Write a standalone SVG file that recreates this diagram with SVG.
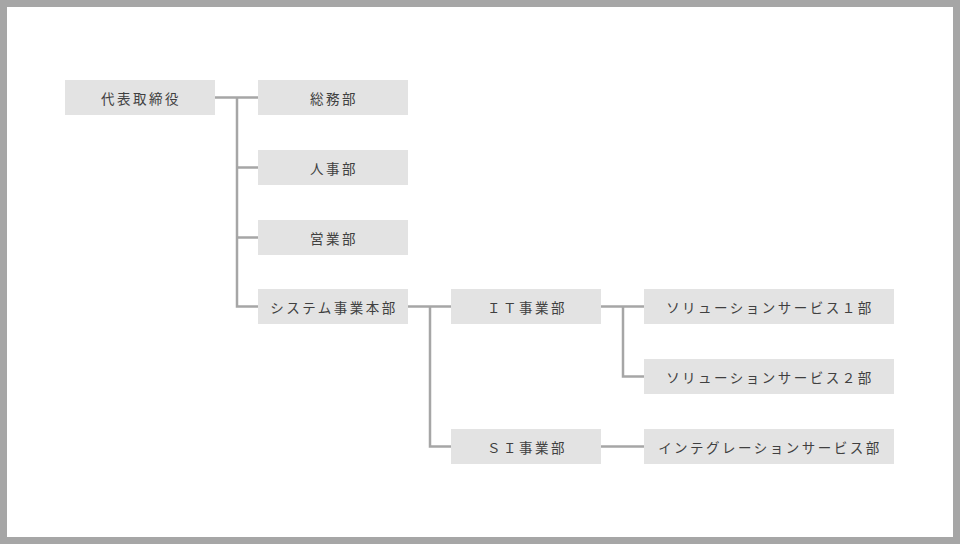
<svg xmlns="http://www.w3.org/2000/svg" width="960" height="544" viewBox="0 0 960 544">
<style>
.box{fill:#e3e3e3;}
.t{font-family:"Noto Sans CJK JP","Noto Sans",sans-serif;font-size:13.5px;letter-spacing:2.5px;fill:#404040;text-anchor:middle;dominant-baseline:central;}
.c{fill:none;stroke:#a6a6a6;stroke-width:2.5;}
</style>
<rect x="0" y="0" width="960" height="544" fill="#a6a6a6"/>
<rect x="7" y="7" width="946" height="530" fill="#ffffff"/>
<g id="connectors">
<path class="c" d="M215 97.5H258M237 97.5V306.5H258M237 167.5H258M237 237.5H258"/>
<path class="c" d="M408 306.5H451M430 306.5V446.5H451"/>
<path class="c" d="M601 306.5H644M623 306.5V376.5H644"/>
<path class="c" d="M601 446.5H644"/>
</g>
<g id="n1"><rect class="box" x="65" y="80" width="150" height="35"/><text class="t" x="141" y="97.5">代表取締役</text></g>
<g id="n2"><rect class="box" x="258" y="80" width="150" height="35"/><text class="t" x="334" y="97.5">総務部</text></g>
<g id="n3"><rect class="box" x="258" y="150" width="150" height="35"/><text class="t" x="334" y="167.5">人事部</text></g>
<g id="n4"><rect class="box" x="258" y="220" width="150" height="35"/><text class="t" x="334" y="237.5">営業部</text></g>
<g id="n5"><rect class="box" x="258" y="289" width="150" height="35"/><text class="t" x="334" y="306.5">システム事業本部</text></g>
<g id="n6"><rect class="box" x="451" y="289" width="150" height="35"/><text class="t" x="527" y="306.5">ＩＴ事業部</text></g>
<g id="n7"><rect class="box" x="451" y="429" width="150" height="35"/><text class="t" x="527" y="446.5">ＳＩ事業部</text></g>
<g id="n8"><rect class="box" x="644" y="289" width="250" height="35"/><text class="t" x="770" y="306.5">ソリューションサービス１部</text></g>
<g id="n9"><rect class="box" x="644" y="359" width="250" height="35"/><text class="t" x="770" y="376.5">ソリューションサービス２部</text></g>
<g id="n10"><rect class="box" x="644" y="429" width="250" height="35"/><text class="t" x="770" y="446.5">インテグレーションサービス部</text></g>
</svg>
